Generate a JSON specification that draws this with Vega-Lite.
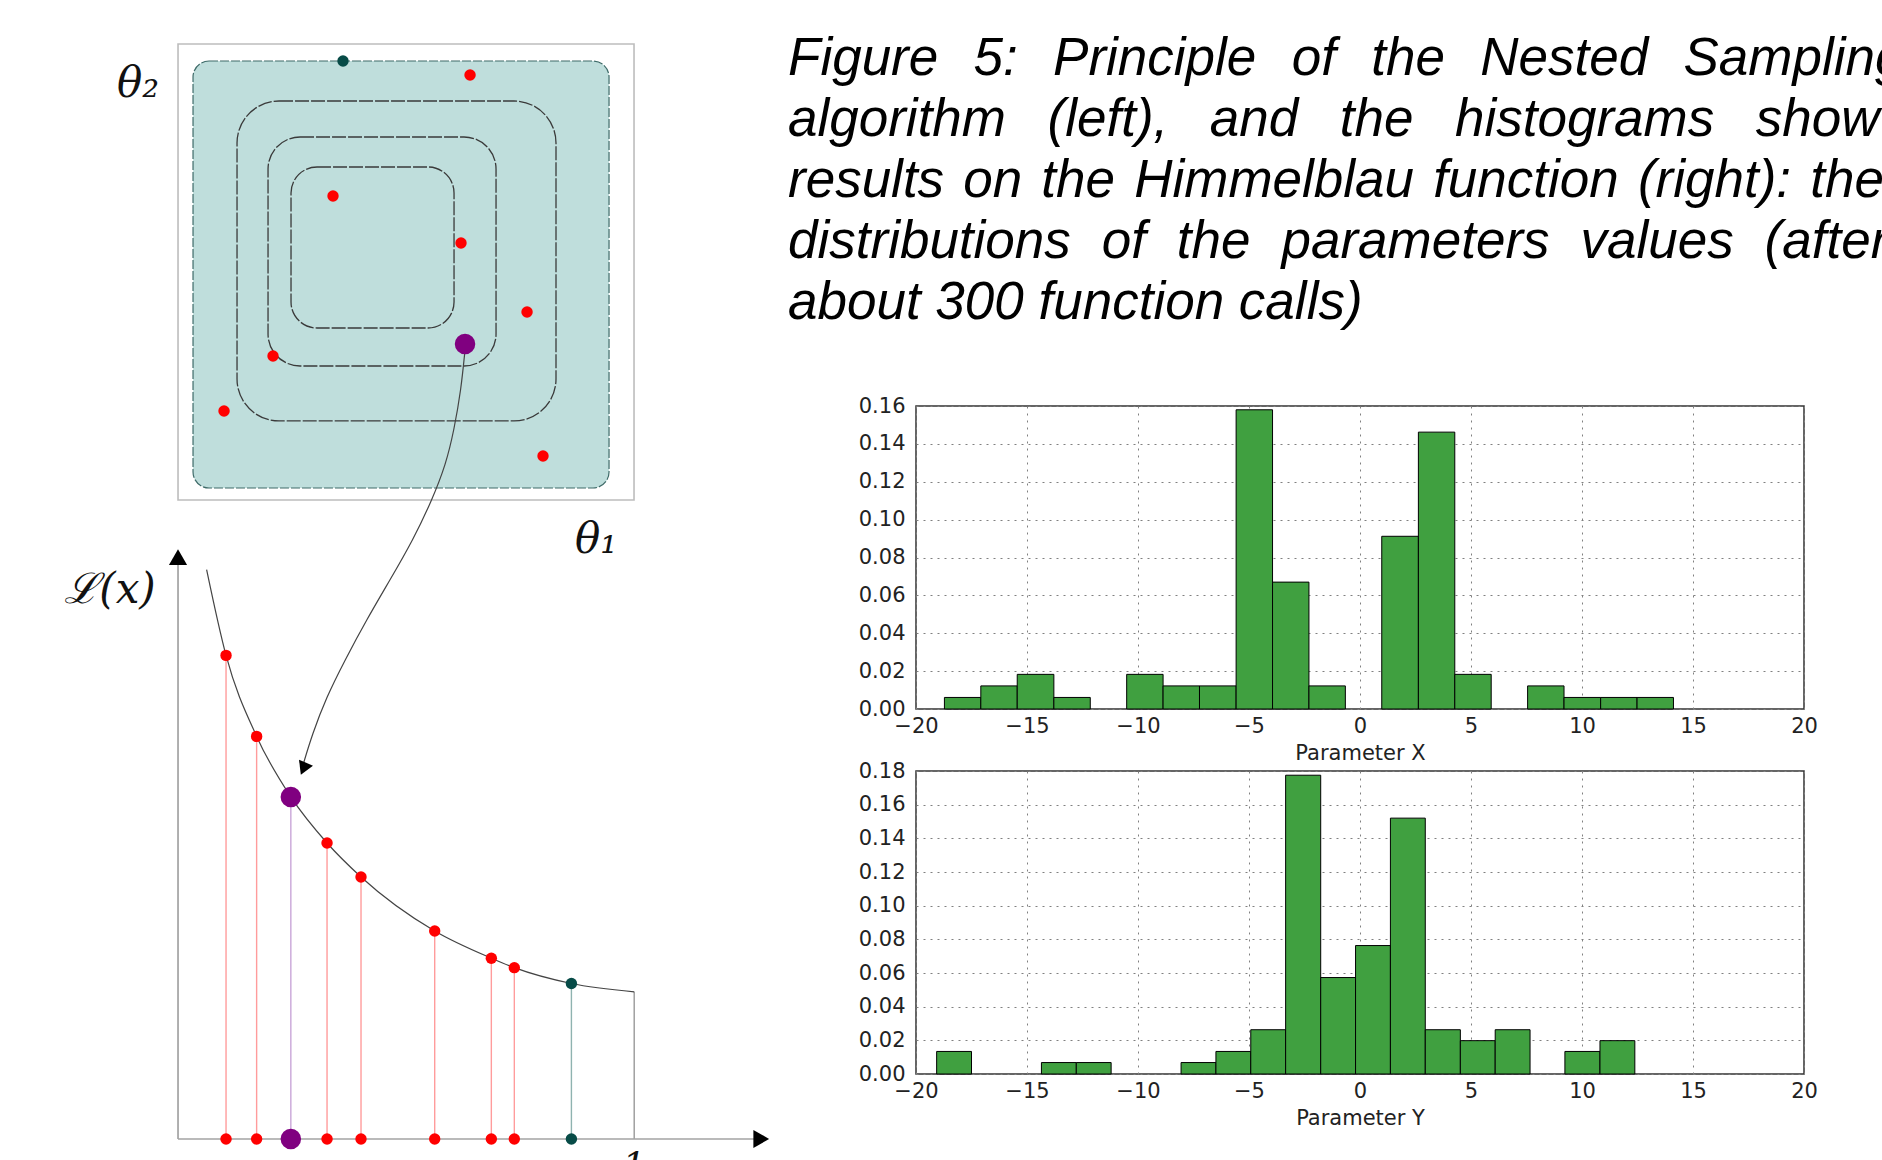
{
  "$schema": "https://vega.github.io/schema/vega-lite/v6.json",
  "padding": 0,
  "background": "white",
  "bounds": "flush",
  "spacing": 146,
  "config": {
    "font": "DejaVu Sans",
    "view": {"stroke": null},
    "axis": {
      "labelFont": "DejaVu Sans", "labelFontSize": 21, "labelColor": "#222",
      "titleFont": "DejaVu Sans", "titleFontSize": 21, "titleFontWeight": "normal", "titleColor": "#222",
      "domain": false, "ticks": false, "grid": true, "gridColor": "#808080", "gridDash": [2, 5], "gridWidth": 1,
      "labelFlush": false, "labelOverlap": false, "zindex": 1
    }
  },
  "datasets": {
    "shapes": [
      {"id": "box", "x": 0, "xe": 100, "y": 140.13, "ye": 240.13},
      {"id": "region", "x": 3.29, "xe": 94.52, "y": 142.76, "ye": 236.4},
      {"id": "c1", "x": 12.94, "xe": 82.89, "y": 157.46, "ye": 227.63},
      {"id": "c2", "x": 19.74, "xe": 69.74, "y": 169.52, "ye": 219.74},
      {"id": "c3", "x": 24.78, "xe": 60.53, "y": 177.85, "ye": 213.16}
    ],
    "square_pts": [
      {"x": 36.18, "y": 236.4, "k": "teal"},
      {"x": 64.04, "y": 233.33, "k": "red"},
      {"x": 33.99, "y": 206.8, "k": "red"},
      {"x": 62.06, "y": 196.49, "k": "red"},
      {"x": 76.54, "y": 181.36, "k": "red"},
      {"x": 62.94, "y": 174.34, "k": "purple"},
      {"x": 20.83, "y": 171.71, "k": "red"},
      {"x": 10.09, "y": 159.65, "k": "red"},
      {"x": 80.04, "y": 149.78, "k": "red"}
    ],
    "curve": [
      {"x": 6.27, "y": 124.87, "k": "none"},
      {"x": 10.53, "y": 106.05, "k": "red"},
      {"x": 17.24, "y": 88.29, "k": "red"},
      {"x": 24.74, "y": 75.02, "k": "purple"},
      {"x": 32.68, "y": 64.91, "k": "red"},
      {"x": 40.13, "y": 57.46, "k": "red"},
      {"x": 56.29, "y": 45.61, "k": "red"},
      {"x": 68.71, "y": 39.65, "k": "red"},
      {"x": 73.75, "y": 37.57, "k": "red"},
      {"x": 86.27, "y": 34.1, "k": "teal"},
      {"x": 100.04, "y": 32.28, "k": "end"}
    ],
    "axes": [
      {"x": 0, "xe": 0, "y": 0, "ye": 127.6},
      {"x": 0, "xe": 127.9, "y": 0, "ye": 0}
    ],
    "arrow": [
      {"i": 1, "x": 62.94, "y": 173.03},
      {"i": 2, "x": 62.06, "y": 164.25},
      {"i": 3, "x": 60.53, "y": 155.48},
      {"i": 4, "x": 58.77, "y": 148.03},
      {"i": 5, "x": 55.7, "y": 140.13},
      {"i": 6, "x": 51.54, "y": 131.36},
      {"i": 7, "x": 46.49, "y": 122.59},
      {"i": 8, "x": 41.45, "y": 114.04},
      {"i": 9, "x": 36.62, "y": 105.04},
      {"i": 10, "x": 32.46, "y": 96.71},
      {"i": 11, "x": 29.39, "y": 88.6},
      {"i": 12, "x": 27.41, "y": 82.02}
    ],
    "heads": [
      {"id": "up", "x": 0, "y": 127.6},
      {"id": "right", "x": 127.9, "y": 0},
      {"id": "arrow", "x": 27.5, "y": 81.2}
    ],
    "labels": [
      {"x": -8.77, "y": 231.36, "t": "θ₂"},
      {"x": 91.67, "y": 131.36, "t": "θ₁"},
      {"x": -14.91, "y": 120.39, "t": "ℒ(x)"}
    ],
    "xlabels": [
      {"x": 83.5, "y": -8.6, "t": "x"},
      {"x": 100.0, "y": -8.6, "t": "1"},
      {"x": 120.6, "y": -8.6, "t": "x"}
    ],
    "caption": [
      {"x": 133.77, "y": 233.33, "t": "Figure\u2002\u20065:\u2002\u2006Principle\u2002\u2006of\u2002\u2006the\u2002\u2006Nested\u2002\u2006Sampling"},
      {"x": 133.77, "y": 219.96, "t": "algorithm\u2002\u2009\u200a(left),\u2002\u2009\u200aand\u2002\u2009\u200athe\u2002\u2009\u200ahistograms\u2002\u2009\u200ashow"},
      {"x": 133.77, "y": 206.58, "t": "results \u200aon \u200athe \u200aHimmelblau \u200afunction \u200a(right): \u200athe"},
      {"x": 133.77, "y": 193.2, "t": "distributions\u2002\u200aof\u2002\u200athe\u2002\u200aparameters\u2002\u200avalues\u2002\u200a(after"},
      {"x": 133.77, "y": 179.82, "t": "about 300 function calls)"}
    ],
    "hx": [
      {"a": -18.72, "b": -17.08, "d": 0.0061},
      {"a": -17.08, "b": -15.44, "d": 0.0122},
      {"a": -15.44, "b": -13.79, "d": 0.0183},
      {"a": -13.79, "b": -12.15, "d": 0.0061},
      {"a": -10.51, "b": -8.87, "d": 0.0183},
      {"a": -8.87, "b": -7.23, "d": 0.0122},
      {"a": -7.23, "b": -5.58, "d": 0.0122},
      {"a": -5.58, "b": -3.94, "d": 0.158},
      {"a": -3.94, "b": -2.3, "d": 0.067},
      {"a": -2.3, "b": -0.66, "d": 0.0122},
      {"a": 0.98, "b": 2.63, "d": 0.0912},
      {"a": 2.63, "b": 4.27, "d": 0.1462},
      {"a": 4.27, "b": 5.91, "d": 0.0183},
      {"a": 7.55, "b": 9.19, "d": 0.0122},
      {"a": 9.19, "b": 10.84, "d": 0.0061},
      {"a": 10.84, "b": 12.48, "d": 0.0061},
      {"a": 12.48, "b": 14.12, "d": 0.0061}
    ],
    "hy": [
      {"a": -19.07, "b": -17.5, "d": 0.0134},
      {"a": -14.35, "b": -12.78, "d": 0.0068},
      {"a": -12.78, "b": -11.21, "d": 0.0068},
      {"a": -8.06, "b": -6.49, "d": 0.0068},
      {"a": -6.49, "b": -4.92, "d": 0.0134},
      {"a": -4.92, "b": -3.35, "d": 0.0263},
      {"a": -3.35, "b": -1.77, "d": 0.1775},
      {"a": -1.77, "b": -0.2, "d": 0.0573},
      {"a": -0.2, "b": 1.37, "d": 0.0763},
      {"a": 1.37, "b": 2.94, "d": 0.152},
      {"a": 2.94, "b": 4.52, "d": 0.0263},
      {"a": 4.52, "b": 6.09, "d": 0.0198},
      {"a": 6.09, "b": 7.66, "d": 0.0263},
      {"a": 9.23, "b": 10.81, "d": 0.0134},
      {"a": 10.81, "b": 12.38, "d": 0.0198}
    ]
  },
  "hconcat": [
    {
      "width": 770,
      "height": 1160,
      "view": {"stroke": null},
      "encoding": {
        "x": {"field": "x", "type": "quantitative", "scale": {"domain": [-39.04, 129.82], "nice": false, "zero": false}, "axis": null},
        "y": {"field": "y", "type": "quantitative", "scale": {"domain": [-4.61, 249.78], "nice": false, "zero": false}, "axis": null}
      },
      "layer": [
        {"data": {"name": "shapes"}, "transform": [{"filter": "datum.id == 'box'"}],
         "mark": {"type": "rect", "fill": "transparent", "stroke": "#bdbdbd", "strokeWidth": 1.6},
         "encoding": {"x2": {"field": "xe"}, "y2": {"field": "ye"}}},
        {"data": {"name": "shapes"}, "transform": [{"filter": "datum.id == 'region'"}],
         "mark": {"type": "rect", "fill": "#bfdedc", "stroke": "#3f6b69", "strokeWidth": 1.2, "strokeDash": [9, 2], "cornerRadius": 16},
         "encoding": {"x2": {"field": "xe"}, "y2": {"field": "ye"}}},
        {"data": {"name": "shapes"}, "transform": [{"filter": "datum.id == 'c1'"}],
         "mark": {"type": "rect", "fill": "transparent", "stroke": "#3a3a3a", "strokeWidth": 1.3, "strokeDash": [14, 2], "cornerRadius": 42},
         "encoding": {"x2": {"field": "xe"}, "y2": {"field": "ye"}}},
        {"data": {"name": "shapes"}, "transform": [{"filter": "datum.id == 'c2'"}],
         "mark": {"type": "rect", "fill": "transparent", "stroke": "#3a3a3a", "strokeWidth": 1.3, "strokeDash": [14, 2], "cornerRadius": 32},
         "encoding": {"x2": {"field": "xe"}, "y2": {"field": "ye"}}},
        {"data": {"name": "shapes"}, "transform": [{"filter": "datum.id == 'c3'"}],
         "mark": {"type": "rect", "fill": "transparent", "stroke": "#3a3a3a", "strokeWidth": 1.3, "strokeDash": [14, 2], "cornerRadius": 26},
         "encoding": {"x2": {"field": "xe"}, "y2": {"field": "ye"}}},
        {"data": {"name": "curve"}, "transform": [{"filter": "datum.k != 'none'"}],
         "mark": {"type": "rule", "strokeWidth": 1.4},
         "encoding": {"y2": {"datum": 0},
           "stroke": {"field": "k", "type": "nominal", "scale": {"type": "ordinal", "domain": ["red", "purple", "teal", "end"], "range": ["#ff9c9c", "#c9a6d8", "#8fb3b0", "#9a9a9a"]}, "legend": null}}},
        {"data": {"name": "axes"},
         "mark": {"type": "rule", "stroke": "#a3a3a3", "strokeWidth": 1.7},
         "encoding": {"x2": {"field": "xe"}, "y2": {"field": "ye"}}},
        {"data": {"name": "curve"},
         "mark": {"type": "line", "stroke": "#444444", "strokeWidth": 1.2, "interpolate": "monotone"},
         "encoding": {}},
        {"data": {"name": "arrow"},
         "mark": {"type": "line", "stroke": "#444444", "strokeWidth": 1.2, "interpolate": "basis"},
         "encoding": {"order": {"field": "i", "type": "quantitative"}}},
        {"data": {"name": "heads"}, "transform": [{"filter": "datum.id == 'up'"}],
         "mark": {"type": "point", "shape": "triangle-up", "filled": true, "color": "#000", "size": 330, "opacity": 1},
         "encoding": {}},
        {"data": {"name": "heads"}, "transform": [{"filter": "datum.id == 'right'"}],
         "mark": {"type": "point", "shape": "triangle-right", "filled": true, "color": "#000", "size": 330, "opacity": 1},
         "encoding": {}},
        {"data": {"name": "heads"}, "transform": [{"filter": "datum.id == 'arrow'"}],
         "mark": {"type": "point", "shape": "triangle-down", "angle": 23, "filled": true, "color": "#000", "size": 230, "opacity": 1},
         "encoding": {}},
        {"data": {"name": "square_pts"},
         "mark": {"type": "point", "filled": true, "opacity": 1, "strokeWidth": 0},
         "encoding": {
           "fill": {"field": "k", "type": "nominal", "scale": {"type": "ordinal", "domain": ["red", "purple", "teal"], "range": ["#ff0000", "#800080", "#074b47"]}, "legend": null},
           "size": {"field": "k", "type": "nominal", "scale": {"type": "ordinal", "domain": ["red", "purple", "teal"], "range": [130, 420, 130]}, "legend": null}}},
        {"data": {"name": "curve"}, "transform": [{"filter": "datum.k == 'red' || datum.k == 'purple' || datum.k == 'teal'"}],
         "mark": {"type": "point", "filled": true, "opacity": 1, "strokeWidth": 0},
         "encoding": {
           "fill": {"field": "k", "type": "nominal", "scale": {"type": "ordinal", "domain": ["red", "purple", "teal"], "range": ["#ff0000", "#800080", "#074b47"]}, "legend": null},
           "size": {"field": "k", "type": "nominal", "scale": {"type": "ordinal", "domain": ["red", "purple", "teal"], "range": [130, 420, 130]}, "legend": null}}},
        {"data": {"name": "curve"}, "transform": [{"filter": "datum.k == 'red' || datum.k == 'purple' || datum.k == 'teal'"}],
         "mark": {"type": "point", "filled": true, "opacity": 1, "strokeWidth": 0},
         "encoding": {
           "y": {"datum": 0},
           "fill": {"field": "k", "type": "nominal", "scale": {"type": "ordinal", "domain": ["red", "purple", "teal"], "range": ["#ff0000", "#800080", "#074b47"]}, "legend": null},
           "size": {"field": "k", "type": "nominal", "scale": {"type": "ordinal", "domain": ["red", "purple", "teal"], "range": [130, 420, 130]}, "legend": null}}},
        {"data": {"name": "labels"},
         "mark": {"type": "text", "font": "DejaVu Serif", "fontStyle": "italic", "fontSize": 42, "align": "center", "baseline": "middle", "color": "#111"},
         "encoding": {"text": {"field": "t"}}},
        {"data": {"name": "xlabels"},
         "mark": {"type": "text", "font": "DejaVu Serif", "fontStyle": "italic", "fontSize": 36, "align": "center", "baseline": "alphabetic", "color": "#111"},
         "encoding": {"text": {"field": "t"}}},
        {"data": {"name": "caption"},
         "mark": {"type": "text", "font": "Liberation Sans", "fontStyle": "italic", "fontSize": 53, "align": "left", "baseline": "alphabetic", "color": "#000"},
         "encoding": {"text": {"field": "t"}}}
      ]
    },
    {
      "bounds": "flush",
      "spacing": 62,
      "vconcat": [
        {"width": 888, "height": 344, "view": {"stroke": null}, "data": {"values": []}, "mark": {"type": "point"}},
        {
          "width": 888, "height": 303,
          "view": {"stroke": "#333", "strokeWidth": 1.5},
          "data": {"name": "hx"},
          "mark": {"type": "rect", "fill": "#40a040", "stroke": "#000", "strokeWidth": 1},
          "encoding": {
            "x": {"field": "a", "type": "quantitative", "scale": {"domain": [-20, 20], "nice": false, "zero": false},
                  "axis": {"values": [-20, -15, -10, -5, 0, 5, 10, 15, 20], "format": "d", "labelPadding": 6, "title": "Parameter X", "titlePadding": 6}},
            "x2": {"field": "b"},
            "y": {"field": "d", "type": "quantitative", "scale": {"domain": [0, 0.16], "nice": false},
                  "axis": {"values": [0, 0.02, 0.04, 0.06, 0.08, 0.1, 0.12, 0.14, 0.16], "format": ".2f", "labelPadding": 11, "title": null}},
            "y2": {"datum": 0}
          }
        },
        {
          "width": 888, "height": 303,
          "view": {"stroke": "#333", "strokeWidth": 1.5},
          "data": {"name": "hy"},
          "mark": {"type": "rect", "fill": "#40a040", "stroke": "#000", "strokeWidth": 1},
          "encoding": {
            "x": {"field": "a", "type": "quantitative", "scale": {"domain": [-20, 20], "nice": false, "zero": false},
                  "axis": {"values": [-20, -15, -10, -5, 0, 5, 10, 15, 20], "format": "d", "labelPadding": 6, "title": "Parameter Y", "titlePadding": 6}},
            "x2": {"field": "b"},
            "y": {"field": "d", "type": "quantitative", "scale": {"domain": [0, 0.18], "nice": false},
                  "axis": {"values": [0, 0.02, 0.04, 0.06, 0.08, 0.1, 0.12, 0.14, 0.16, 0.18], "format": ".2f", "labelPadding": 11, "title": null}},
            "y2": {"datum": 0}
          }
        }
      ]
    }
  ]
}
